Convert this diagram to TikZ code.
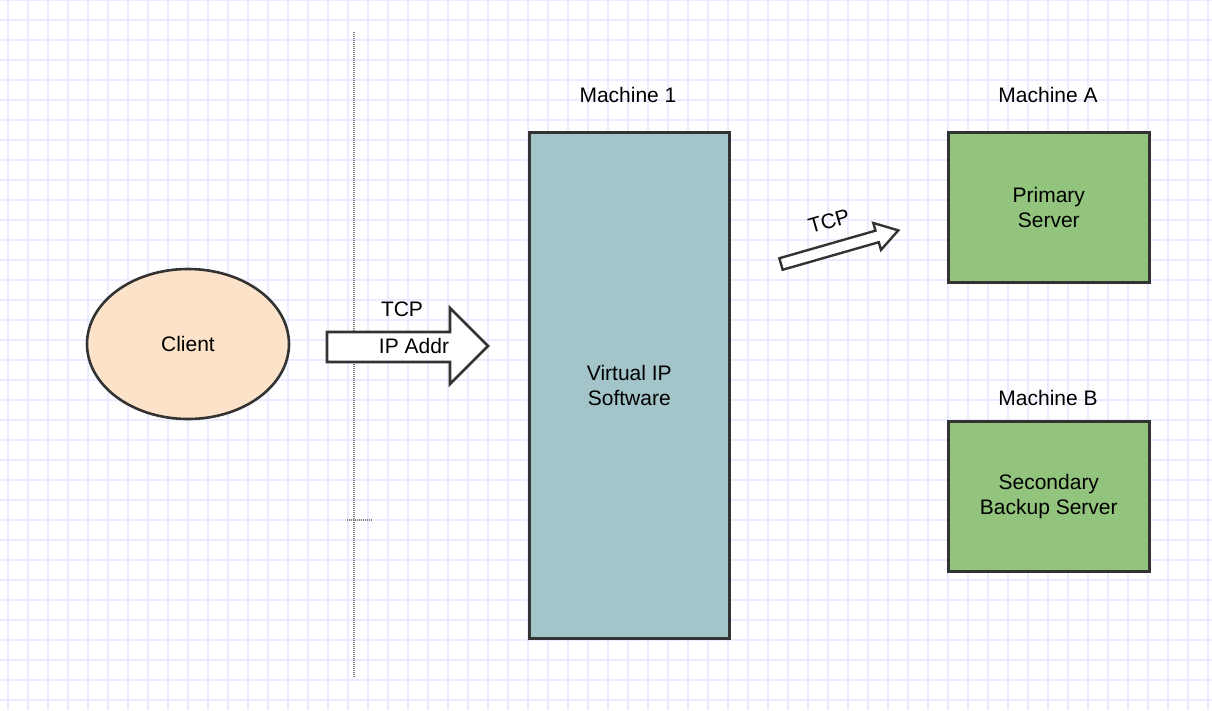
\documentclass[tikz,border=0pt]{standalone}
\usepackage{fontspec}
\usetikzlibrary{shapes.geometric}
\setmainfont{Liberation Sans}
\begin{document}
\begin{tikzpicture}[x=1pt,y=-1pt,
  box/.style={draw=black!80,line width=2.6pt,anchor=north west},
  lbl/.style={font=\fontsize{21}{25}\selectfont,align=center},
  arr/.style={draw=black!80,line width=2.8pt,fill=white,line join=miter}]
\useasboundingbox (0,0) rectangle (1212,710);
\fill[white] (0,0) rectangle (1212,710);
\foreach \x in {8,28,...,1212} \draw[blue!8,line width=1.2pt] (\x,0) -- (\x,710);
\foreach \y in {0,20,...,710} \draw[blue!8,line width=1.2pt] (0,\y) -- (1212,\y);
% dotted separator
\draw[gray,line width=2.5pt,dash pattern=on 1pt off 1pt] (354,32) coordinate (s1) -- (354,678) coordinate (s2);
\draw[gray,line width=1.5pt,dash pattern=on 1pt off 1pt] (347,520) coordinate (t1) -- (372,520) coordinate (t2);
% client
\node[ellipse,draw=black!80,line width=2.6pt,fill={rgb,255:red,251;green,226;blue,200},minimum width=202,minimum height=150,lbl] (client) at (188,344) {Client};
% big arrow
\draw[arr] (327,332) -- (450,332) -- (450,308) -- (488,346) -- (450,384) -- (450,362) -- (327,362) -- cycle;
\node[lbl] (tcp1) at (402,309) {TCP};
\node[lbl] (ip) at (414,346) {IP Addr};
% machine 1
\node[box,fill={rgb,255:red,163;green,196;blue,200},minimum width=200,minimum height=506] (m1) at (528,131) {};
\node[lbl] at (m1.center) {Virtual IP\\Software};
\node[lbl] (m1l) at (628,95) {Machine 1};
% machine A
\node[box,fill={rgb,255:red,147;green,196;blue,125},minimum width=201,minimum height=150] (ma) at (947,131) {};
\node[lbl] at (ma.center) {Primary\\Server};
\node[lbl] (mal) at (1048,95) {Machine A};
% machine B
\node[box,fill={rgb,255:red,147;green,196;blue,125},minimum width=201,minimum height=150] (mb) at (947,420) {};
\node[lbl] at (mb.center) {Secondary\\Backup Server};
\node[lbl] (mbl) at (1048,398) {Machine B};
% small arrow
\begin{scope}[shift={(781,264)},rotate=16]
\draw[arr,line width=2.4pt] (0,-6) -- (100,-6) -- (100,-14) -- (122,0) -- (100,14) -- (100,6) -- (0,6) -- cycle;
\end{scope}
\node[lbl,rotate=16] (tcp2) at (829,221) {TCP};
\end{tikzpicture}
\end{document}
